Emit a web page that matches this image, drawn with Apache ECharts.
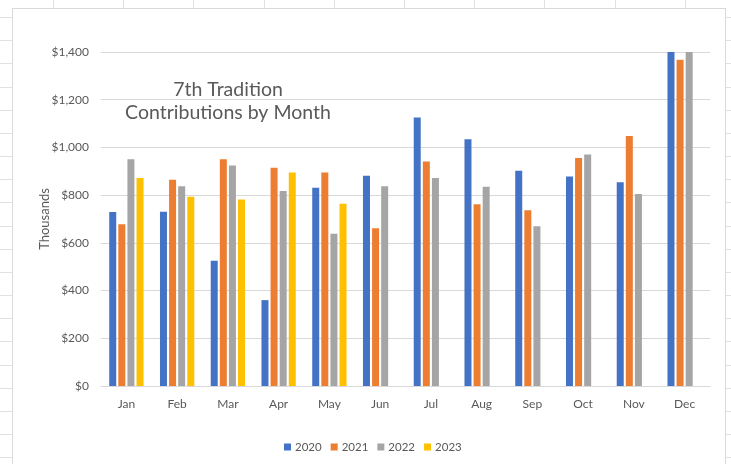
<!DOCTYPE html>
<html>
<head>
<meta charset="utf-8">
<script src="https://cdn.jsdelivr.net/npm/echarts@6/dist/echarts.min.js"></script>
<style>
  html, body { margin: 0; padding: 0; }
  body {
    width: 731px; height: 464px; overflow: hidden; position: relative;
    background-color: #ffffff;
    background-image:
      repeating-linear-gradient(to right, transparent 0px, transparent 53px, #e1e1e1 53px, #e1e1e1 54px, transparent 54px, transparent 70.2px),
      repeating-linear-gradient(to bottom, transparent 0px, transparent 17px, #e1e1e1 17px, #e1e1e1 18px, transparent 18px, transparent 23.17px);
  }
  #box { position: absolute; left: 12px; top: 8px; width: 712px; height: 470px; background: #fff; border: 1px solid #d9d9d9; }
  #chart { position: absolute; left: 0; top: 0; width: 731px; height: 464px; }
</style>
</head>
<body>
<div id="box"></div>
<div id="chart"></div>
<script>
const months = ['Jan','Feb','Mar','Apr','May','Jun','Jul','Aug','Sep','Oct','Nov','Dec'];
const seriesNames = ['2020','2021','2022','2023'];
const v2020 = [729, 730, 525, 360, 831, 881, 1125, 1034, 902, 878, 854, 1400];
const v2021 = [678, 865, 950, 915, 895, 661, 941, 762, 737, 956, 1048, 1368];
const v2022 = [950, 837, 924, 817, 638, 837, 872, 835, 670, 970, 805, 1400];
const v2023 = [872, 793, 782, 895, 764, null, null, null, null, null, null, null];
const yTickLabels = ['$0','$200','$400','$600','$800','$1,000','$1,200','$1,400'];
const colors = ['#4472C4','#ED7D31','#A5A5A5','#FFC000'];

const font = 'Lato, "Open Sans", sans-serif';
const allValues = [v2020, v2021, v2022, v2023];

const chart = echarts.init(document.getElementById('chart'));
chart.setOption({
  animation: false,
  backgroundColor: 'transparent',
  color: colors,
  title: {
    text: '7th Tradition\nContributions by Month',
    left: 223, top: 73, textAlign: 'center',
    textStyle: { fontFamily: font, fontSize: 19.5, fontWeight: 'normal', color: '#595959', lineHeight: 23 }
  },
  legend: {
    data: seriesNames,
    left: 279, top: 436,
    icon: 'rect', itemWidth: 7, itemHeight: 7, itemGap: 9,
    textStyle: { fontFamily: font, fontSize: 11.5, color: '#595959', padding: [0,0,0,-1] }
  },
  grid: { left: 101, right: 21, top: 52, bottom: 78, containLabel: false },
  xAxis: {
    type: 'category', data: months,
    axisTick: { show: false },
    axisLine: { lineStyle: { color: '#d9d9d9' } },
    axisLabel: { fontFamily: font, fontSize: 12, color: '#595959', margin: 12 }
  },
  yAxis: {
    type: 'value', min: 0, max: 1400, interval: 200,
    name: 'Thousands', nameLocation: 'middle', nameRotate: 90, nameGap: 50,
    nameMoveOverlap: false,
    nameTextStyle: { fontFamily: font, fontSize: 13, color: '#595959' },
    axisLine: { show: false }, axisTick: { show: false },
    splitLine: { lineStyle: { color: '#d9d9d9' } },
    axisLabel: { fontFamily: font, fontSize: 12, color: '#595959', margin: 12,
      formatter: (v) => yTickLabels[Math.round(v / 200)] }
  },
  series: seriesNames.map((n, i) => ({
    name: n, type: 'bar', data: allValues[i],
    barWidth: 7, barGap: '30%',
    itemStyle: { color: colors[i] }
  }))
});
</script>
</body>
</html>
